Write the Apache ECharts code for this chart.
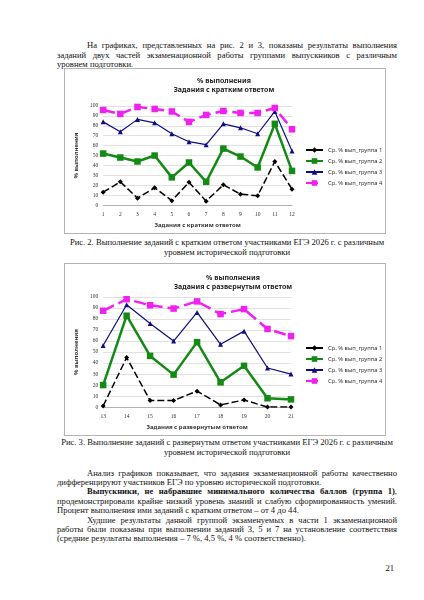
<!DOCTYPE html>
<html>
<head>
<meta charset="UTF-8">
<script src="https://cdn.jsdelivr.net/npm/echarts@6/dist/echarts.min.js"></script>
<style>
    body { margin: 0; width: 424px; height: 600px; background: #fff; position: relative; overflow: hidden; }
    .t { position: absolute; left: 57px; width: 340px; font-family: "Liberation Serif", serif; font-size: 9px;
         line-height: 10px; height: 10px; white-space: nowrap; color: #111; }
    .c { text-align: center; }
    .ind { left: 87px; width: 310px; }
    .box { position: absolute; left: 64px; width: 322px; border: 1px solid #b4b4b4; box-sizing: border-box; }
</style>
</head>
<body>
<div class="t j ind" style="top:40px">На графиках, представленных на рис. 2 и 3, показаны результаты выполнения</div>
<div class="t j" style="top:50px">заданий двух частей экзаменационной работы группами выпускников с различным</div>
<div class="t" style="top:59px">уровнем подготовки.</div>

<div class="box" id="chartShort" style="top:68px; height:166px;"></div>

<div class="t c" style="top:237px">Рис. 2. Выполнение заданий с кратким ответом участниками ЕГЭ 2026 г. с различным</div>
<div class="t c" style="top:247px">уровнем исторической подготовки</div>

<div class="box" id="chartLong" style="top:263px; height:173px;"></div>

<div class="t c" id="cap3" style="top:437px">Рис. 3. Выполнение заданий с развернутым ответом участниками ЕГЭ 2026 г. с различным</div>
<div class="t c" style="top:447px">уровнем исторической подготовки</div>

<div class="t j ind" style="top:468px">Анализ графиков показывает, что задания экзаменационной работы качественно</div>
<div class="t" style="top:477px">дифференцируют участников ЕГЭ по уровню исторической подготовки.</div>
<div class="t j ind" style="top:486px"><b>Выпускники, не набравшие минимального количества баллов (группа 1)</b>,</div>
<div class="t j" style="top:495.5px">продемонстрировали крайне низкий уровень знаний и слабую сформированность умений.</div>
<div class="t" style="top:505px">Процент выполнения ими заданий с кратким ответом – от 4 до 44.</div>
<div class="t j ind" style="top:514.5px">Худшие результаты данной группой экзаменуемых в части 1 экзаменационной</div>
<div class="t j" style="top:523.5px">работы были показаны при выполнении заданий 3, 5 и 7 на установление соответствия</div>
<div class="t" style="top:532.5px">(средние результаты выполнения – 7 %, 4,5 %, 4 % соответственно).</div>

<div class="t" style="top:563px; left:370px; width:24px; text-align:right;">21</div>

<script type="text/javascript">
    // рис. 2 — задания с кратким ответом
    var tasksShort = ['1', '2', '3', '4', '5', '6', '7', '8', '9', '10', '11', '12'];
    var group1Short = [13, 23.5, 7, 17.5, 4.5, 23, 4, 20.5, 11, 9.5, 44, 16];
    var group2Short = [52, 48, 44, 50, 28, 43, 23.5, 57, 49, 38, 82, 34.5];
    var group3Short = [84, 74, 86.5, 83, 72, 64, 61, 82, 78, 72, 94.5, 54.5];
    var group4Short = [96, 92, 99, 97, 94.5, 84, 91, 95, 93, 93, 98, 76.5];

    // рис. 3 — задания с развернутым ответом
    var tasksLong = ['13', '14', '15', '16', '17', '18', '19', '20', '21'];
    var group1Long = [1, 45, 6, 6, 14.5, 2, 6.5, 0, 0];
    var group2Long = [20, 83, 46.5, 29.5, 59, 22.5, 37.5, 8, 7];
    var group3Long = [56, 93, 76, 60, 86, 57, 69, 35.5, 30];
    var group4Long = [87.5, 98, 92.5, 89.5, 96, 84.5, 89, 71, 64.5];

    var groupNames = ['Ср. % вып_группа 1', 'Ср. % вып_группа 2', 'Ср. % вып_группа 3', 'Ср. % вып_группа 4'];
    var yTicks = { min: 0, max: 100, interval: 10 };

    var sans = '"Noto Sans", "DejaVu Sans", sans-serif';
    var serif = '"Liberation Serif", serif';

    // размер шрифта подбираем так, чтобы подпись к рис. 3 заняла ~332px, как на странице
    function naturalWidth(el) {
        var s = document.createElement('span');
        s.innerHTML = el.innerHTML;
        s.style.cssText = 'position:absolute;visibility:hidden;white-space:nowrap;font:inherit;';
        el.appendChild(s);
        var w = s.getBoundingClientRect().width;
        el.removeChild(s);
        return w;
    }
    var allText = document.querySelectorAll('.t');
    var cap = document.getElementById('cap3');
    var fontPx = 9 * 332 / naturalWidth(cap);
    for (var k = 0; k < allText.length; k++) {
        allText[k].style.fontSize = fontPx + 'px';
    }

    // выравнивание строк по ширине: подгоняем межсловный интервал
    var lines = document.querySelectorAll('.j');
    for (var i = 0; i < lines.length; i++) {
        var el = lines[i];
        var target = el.clientWidth;
        var natural = naturalWidth(el);
        var spaces = (el.textContent.match(/ /g) || []).length;
        if (spaces > 0) {
            el.style.wordSpacing = ((target - natural) / spaces) + 'px';
        }
    }

    function makeSeries(g1, g2, g3, g4) {
        return [
            {
                name: groupNames[0], type: 'line', data: g1,
                symbol: 'diamond', symbolSize: 5,
                lineStyle: { color: '#000', width: 1.5, type: [7, 3] },
                itemStyle: { color: '#000' }
            },
            {
                name: groupNames[1], type: 'line', data: g2,
                symbol: 'rect', symbolSize: 6.5,
                lineStyle: { color: '#138a13', width: 2.5 },
                itemStyle: { color: '#138a13' }
            },
            {
                name: groupNames[2], type: 'line', data: g3,
                symbol: 'triangle', symbolSize: 5,
                lineStyle: { color: '#0d0d80', width: 1.2 },
                itemStyle: { color: '#0d0d80' }
            },
            {
                name: groupNames[3], type: 'line', data: g4,
                symbol: 'rect', symbolSize: 6.5,
                lineStyle: { color: '#f020f0', width: 2.5, type: [12, 5] },
                itemStyle: { color: '#f020f0' }
            }
        ];
    }

    function initChart(domId, cats, series, cfg) {
        var myChart = echarts.init(document.getElementById(domId));
        var option = {
            animation: false,
            textStyle: { fontFamily: sans },
            title: [
                {
                    text: '% выполнения', left: cfg.titleX, top: cfg.titleY, textAlign: 'center',
                    textStyle: { fontSize: 7, fontWeight: 'bold', color: '#222', fontFamily: sans }
                },
                {
                    text: cfg.subtitle, left: cfg.titleX, top: cfg.titleY + 9.5, textAlign: 'center',
                    textStyle: { fontSize: 7, fontWeight: 'bold', color: '#222', fontFamily: sans }
                }
            ],
            legend: {
                orient: 'vertical',
                left: cfg.legendX,
                top: cfg.legendY,
                padding: 0,
                itemWidth: 17,
                itemHeight: 7,
                itemGap: 5,
                textStyle: { fontSize: 5.8, color: '#333', fontFamily: sans },
                data: groupNames
            },
            grid: cfg.grid,
            xAxis: {
                type: 'category',
                boundaryGap: false,
                data: cats,
                name: cfg.xName,
                nameLocation: 'middle',
                nameGap: cfg.xNameGap,
                nameTextStyle: { fontSize: 6, fontWeight: 'bold', color: '#333', fontFamily: sans },
                axisLine: { lineStyle: { color: '#a6a6a6', width: 0.8 } },
                axisTick: { show: false },
                axisLabel: { fontSize: 5.5, color: '#333', fontFamily: serif, margin: 6 }
            },
            yAxis: {
                type: 'value',
                min: yTicks.min,
                max: yTicks.max,
                interval: yTicks.interval,
                name: '% выполнения',
                nameLocation: 'middle',
                nameGap: 20,
                nameRotate: 90,
                nameTextStyle: { fontSize: 6, fontWeight: 'bold', color: '#333', fontFamily: sans },
                axisLine: { show: false },
                axisTick: { show: false },
                axisLabel: { fontSize: 5.5, color: '#333', fontFamily: serif, margin: 5 },
                splitLine: { lineStyle: { color: '#d9d9d9', width: 0.8 } }
            },
            series: series
        };
        myChart.setOption(option);
    }

    initChart('chartShort', tasksShort, makeSeries(group1Short, group2Short, group3Short, group4Short), {
        subtitle: 'Задания с кратким ответом',
        titleX: 154, titleY: 3,
        legendX: 240, legendY: 78,
        grid: { left: 28, right: 93, top: 37, bottom: 25 },
        xName: 'Задания с кратким ответом', xNameGap: 14
    });

    initChart('chartLong', tasksLong, makeSeries(group1Long, group2Long, group3Long, group4Long), {
        subtitle: 'Задания с развернутым ответом',
        titleX: 163, titleY: 5,
        legendX: 240, legendY: 81,
        grid: { left: 32, right: 94, top: 33, bottom: 23 },
        xName: 'Задания с развернутым ответом', xNameGap: 13
    });
</script>
</body>
</html>
